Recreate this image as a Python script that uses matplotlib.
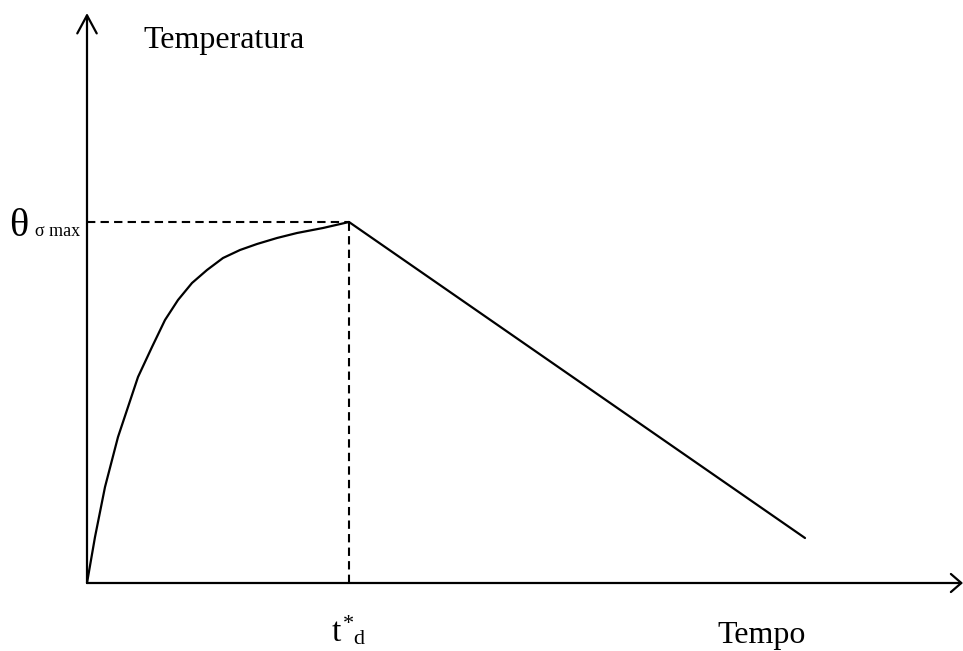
import matplotlib.pyplot as plt

# heating curve (time, temperature) in drawing units
heat_t = [0, 8, 18, 31, 41, 51, 65, 78, 91, 105, 120, 136, 153, 170, 190, 210, 236, 262]
heat_T = [0, 46, 96, 146, 176, 206, 236, 263, 283, 300, 313, 325, 333, 339, 345, 350, 355, 361]

# cooling branch after t*_d
cool_t = [262, 718]
cool_T = [361, 45]

t_peak = 262
T_peak = 361

plt.rcParams["font.family"] = ["Liberation Serif", "DejaVu Serif"]

fig = plt.figure(figsize=(9.63, 6.51), dpi=100)
ax = fig.add_axes([0, 0, 1, 1])
ax.set_xlim(-87, 876)
ax.set_ylim(-68, 583)
ax.axis("off")

# axes with open arrowheads
ax.annotate("", xy=(0, 570), xytext=(0, 0),
            arrowprops=dict(arrowstyle="->,head_length=1.3,head_width=0.7",
                            lw=1.6, color="black", shrinkA=0, shrinkB=0))
ax.annotate("", xy=(876, 0), xytext=(0, 0),
            arrowprops=dict(arrowstyle="->,head_length=0.75,head_width=0.65",
                            lw=1.6, color="black", shrinkA=0, shrinkB=0))

# curve
ax.plot(heat_t, heat_T, color="black", lw=1.6, solid_capstyle="round",
        solid_joinstyle="round")
ax.plot(cool_t, cool_T, color="black", lw=1.6, solid_capstyle="round")

# dashed guides
ax.plot([0, t_peak], [T_peak, T_peak], color="black", lw=1.5, ls=(0, (4, 2.5)))
ax.plot([t_peak, t_peak], [0, T_peak], color="black", lw=1.5, ls=(0, (4, 2.5)))

# labels
ax.text(56, 535, "Temperatura", fontsize=23, va="baseline", ha="left")
ax.text(-78, 347, "θ", fontsize=29, va="baseline", ha="left")
ax.text(-52, 347, "σ max", fontsize=13, va="baseline", ha="left")
ax.text(245, -58, "t", fontsize=24, va="baseline", ha="left")
ax.text(256, -46, "*", fontsize=16, va="baseline", ha="left")
ax.text(266, -61, "d", fontsize=16, va="baseline", ha="left")
ax.text(630, -60, "Tempo", fontsize=23, va="baseline", ha="left")

fig.savefig("out.png", dpi=100)
